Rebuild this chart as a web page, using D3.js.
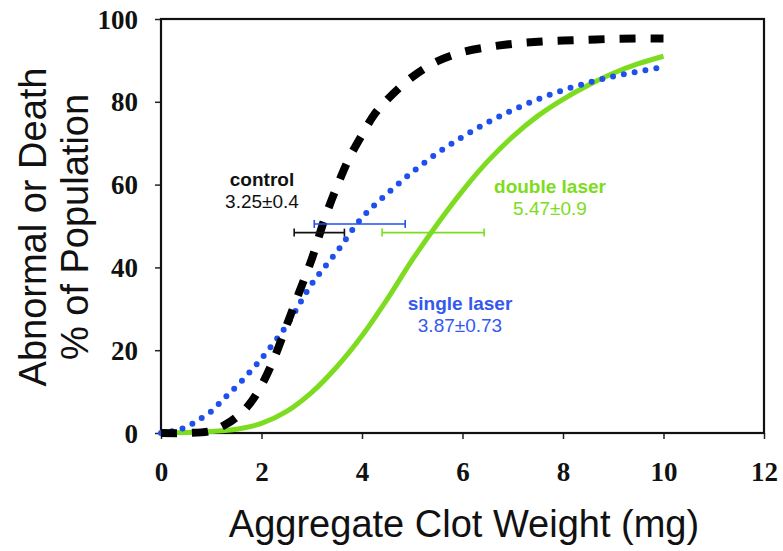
<!DOCTYPE html>
<html>
<head>
<meta charset="utf-8">
<script src="https://cdn.jsdelivr.net/npm/d3@7"></script>
<style>
    body { margin: 0; background: #fff; }
    svg { display: block; }
</style>
</head>
<body>
<div id="chart"></div>
<script>
// values (x = clot weight in mg, y = % of population)
const controlX = [0, 0.5, 1, 1.25, 1.5, 1.75, 2, 2.25, 2.5, 2.75, 3, 3.25, 3.5, 3.75, 4, 4.25, 4.5, 5, 5.5, 6, 6.5, 7, 7.5, 8, 8.5, 9, 9.5, 10];
const controlY = [0, 0, 0.5, 1.8, 3.8, 6.8, 11.5, 18, 26, 34, 42, 51.5, 59.5, 66.5, 72, 77, 80.5, 86, 89.8, 92, 93.2, 94, 94.5, 94.8, 95, 95.2, 95.3, 95.3];

const singleX = [0, 0.25, 0.5, 0.75, 1, 1.25, 1.5, 2, 2.5, 3, 3.5, 4, 4.5, 5, 5.5, 6, 6.5, 7, 7.5, 8, 8.5, 9, 9.5, 10];
const singleY = [0, 0.5, 1.4, 3.2, 5.2, 8.3, 11.2, 18, 26, 36, 43.8, 52, 57.8, 63, 67.6, 71.5, 75, 78, 80.6, 82.8, 84.6, 86.1, 87.3, 88.4];

const doubleX = [0, 0.5, 1, 1.5, 2, 2.5, 3, 3.5, 4, 4.5, 5, 5.5, 6, 6.5, 7, 7.5, 8, 8.5, 9, 9.5, 10];
const doubleY = [0, 0.1, 0.35, 0.9, 2.3, 5.2, 9.8, 16, 23.5, 32.3, 41.8, 50.5, 58.5, 65.6, 71.6, 76.6, 80.6, 84, 86.9, 89.2, 91];

// error bars: [low, high] at a height
const barNames = ['single', 'control', 'double'];
const barLow = [3.05, 2.65, 4.4];
const barHigh = [4.86, 3.65, 6.43];
const barLevel = [50.5, 48.4, 48.4];

const xTicks = [0, 2, 4, 6, 8, 10, 12];
const yTicks = [0, 20, 40, 60, 80, 100];

const black = '#000';
const blue = '#1f50ee';
const blueText = '#3558ef';
const green = '#7ddc20';

const width = 783;
const height = 551;
const plot = { left: 161, right: 764, top: 19, bottom: 433 };

const svg = d3.select('#chart')
    .append('svg')
    .attr('width', width)
    .attr('height', height);

const xScale = d3.scaleLinear().domain([0, 12]).range([plot.left, plot.right]);
const yScale = d3.scaleLinear().domain([0, 100]).range([plot.bottom, plot.top]);

// axes
const xAxis = d3.axisBottom(xScale).tickValues(xTicks).tickSize(6).tickFormat(d3.format('d'));
const yAxis = d3.axisLeft(yScale).tickValues(yTicks).tickSize(6).tickFormat(d3.format('d'));

const xAxisGroup = svg.append('g')
    .attr('transform', 'translate(0,' + plot.bottom + ')')
    .call(xAxis);
const yAxisGroup = svg.append('g')
    .attr('transform', 'translate(' + plot.left + ',0)')
    .call(yAxis);

[xAxisGroup, yAxisGroup].forEach(g => {
    g.select('.domain').remove();
    g.selectAll('.tick line').attr('stroke', '#222').attr('stroke-width', 1.5);
    g.selectAll('.tick text')
        .attr('fill', '#111')
        .style('font-family', '"Liberation Serif", "Times New Roman", serif')
        .style('font-weight', 'bold')
        .style('font-size', '27px');
});
xAxisGroup.selectAll('.tick text').attr('y', 48).attr('dy', 0);
yAxisGroup.selectAll('.tick text').attr('x', -23).attr('dy', '0.34em');

// frame
svg.append('rect')
    .attr('x', plot.left)
    .attr('y', plot.top)
    .attr('width', plot.right - plot.left)
    .attr('height', plot.bottom - plot.top)
    .attr('fill', 'none')
    .attr('stroke', '#111')
    .attr('stroke-width', 2.2);

// curves
const line = d3.line()
    .x(d => xScale(d[0]))
    .y(d => yScale(d[1]))
    .curve(d3.curveCatmullRom);

const zip = (xs, ys) => xs.map((x, i) => [x, ys[i]]);

svg.append('path')
    .datum(zip(doubleX, doubleY))
    .attr('d', line)
    .attr('fill', 'none')
    .attr('stroke', green)
    .attr('stroke-width', 5);

svg.append('path')
    .datum(zip(singleX, singleY))
    .attr('d', line)
    .attr('fill', 'none')
    .attr('stroke', blue)
    .attr('stroke-width', 6)
    .attr('stroke-linecap', 'round')
    .attr('stroke-dasharray', '0 11');

svg.append('path')
    .datum(zip(controlX, controlY))
    .attr('d', line)
    .attr('fill', 'none')
    .attr('stroke', black)
    .attr('stroke-width', 8)
    .attr('stroke-dasharray', '16 15');

// error bars
const barColor = { single: blue, control: '#111', double: green };
const bars = svg.selectAll('.err')
    .data(barNames.map((n, i) => ({ name: n, lo: barLow[i], hi: barHigh[i], y: barLevel[i] })))
    .enter()
    .append('g')
    .attr('class', 'err')
    .attr('stroke', d => barColor[d.name])
    .attr('stroke-width', 1.6);

bars.append('line')
    .attr('x1', d => xScale(d.lo))
    .attr('x2', d => xScale(d.hi))
    .attr('y1', d => yScale(d.y))
    .attr('y2', d => yScale(d.y));
bars.append('line')
    .attr('x1', d => xScale(d.lo))
    .attr('x2', d => xScale(d.lo))
    .attr('y1', d => yScale(d.y) - 4)
    .attr('y2', d => yScale(d.y) + 4);
bars.append('line')
    .attr('x1', d => xScale(d.hi))
    .attr('x2', d => xScale(d.hi))
    .attr('y1', d => yScale(d.y) - 4)
    .attr('y2', d => yScale(d.y) + 4);

// annotations
const sans = '"Liberation Sans", Arial, Helvetica, sans-serif';
function note(x, y, title, value, color) {
    const t = svg.append('text')
        .attr('x', x)
        .attr('y', y)
        .attr('text-anchor', 'middle')
        .attr('fill', color)
        .style('font-family', sans)
        .style('font-size', '19px');
    t.append('tspan').attr('x', x).style('font-weight', 'bold').text(title);
    t.append('tspan').attr('x', x).attr('dy', 22).text(value);
}
note(262, 186, 'control', '3.25±0.4', '#111');
note(550, 193, 'double laser', '5.47±0.9', green);
note(460, 310, 'single laser', '3.87±0.73', blueText);

// axis titles
svg.append('text')
    .attr('x', 464)
    .attr('y', 537)
    .attr('text-anchor', 'middle')
    .attr('fill', '#111')
    .style('font-family', sans)
    .style('font-size', '38px')
    .text('Aggregate Clot Weight (mg)');

const yLabel = svg.append('g')
    .attr('transform', 'translate(0,227) rotate(-90)');
yLabel.append('text')
    .attr('x', 0)
    .attr('y', 46)
    .attr('text-anchor', 'middle')
    .attr('fill', '#111')
    .style('font-family', sans)
    .style('font-size', '38px')
    .text('Abnormal or Death');
yLabel.append('text')
    .attr('x', 0)
    .attr('y', 88)
    .attr('text-anchor', 'middle')
    .attr('fill', '#111')
    .style('font-family', sans)
    .style('font-size', '38px')
    .text('% of Population');
</script>
</body>
</html>
